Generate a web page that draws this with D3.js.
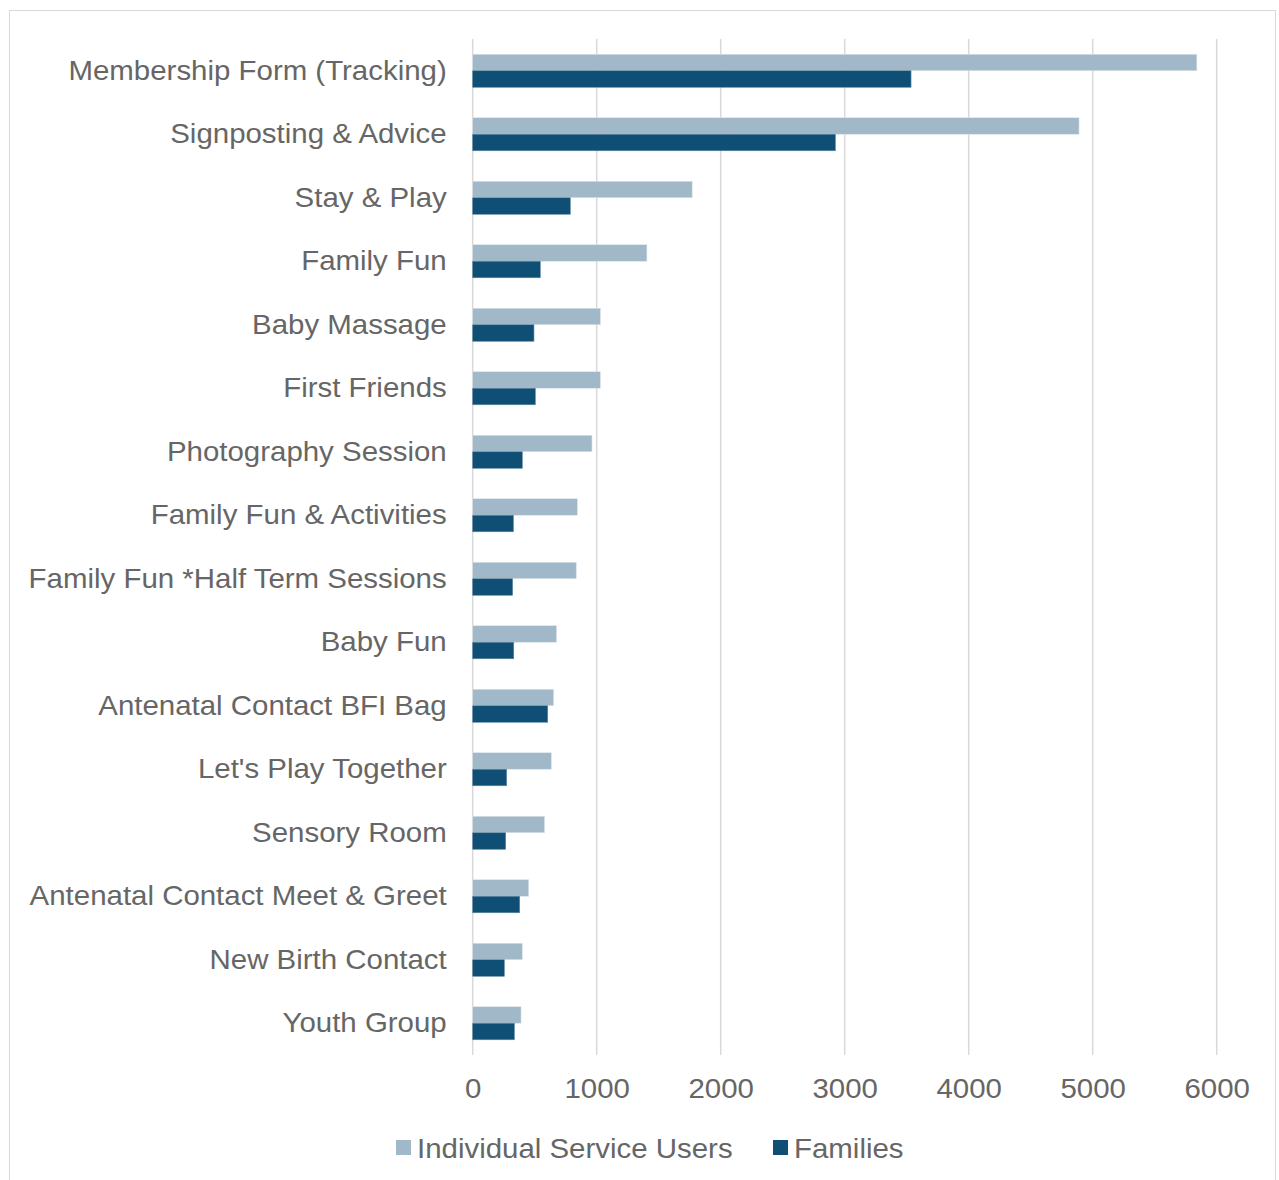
<!DOCTYPE html>
<html>
<head>
<meta charset="utf-8">
<script src="https://cdn.jsdelivr.net/npm/d3@7"></script>
<style>
  html, body { margin: 0; padding: 0; background: #fff; }
  svg { display: block; }
  text { font-family: "Liberation Sans", Arial, sans-serif; fill: #666666; }
</style>
</head>
<body>
<script>
// Programme attendance by activity
const categories = [
  "Membership Form (Tracking)",
  "Signposting & Advice",
  "Stay & Play",
  "Family Fun",
  "Baby Massage",
  "First Friends",
  "Photography Session",
  "Family Fun & Activities",
  "Family Fun *Half Term Sessions",
  "Baby Fun",
  "Antenatal Contact BFI Bag",
  "Let's Play Together",
  "Sensory Room",
  "Antenatal Contact Meet & Greet",
  "New Birth Contact",
  "Youth Group"
];
const individualUsers = [5840, 4890, 1770, 1405, 1030, 1030, 962, 844, 835, 677, 653, 634, 580, 452, 400, 390];
const families = [3535, 2925, 787, 545, 494, 505, 400, 328, 322, 331, 605, 274, 266, 379, 255, 336];
const xTicks = [0, 1000, 2000, 3000, 4000, 5000, 6000];
const seriesNames = ["Individual Service Users", "Families"];
const seriesColors = ["#A1B8C8", "#0F4F75"];

const W = 1279, H = 1180;
const plot = { left: 472.7, right: 1216.7, top: 39, bottom: 1055 };
const FONT = "27.5px";
const WIDEN = 1.07; // text is set slightly wide

const svg = d3.select("body").append("svg").attr("width", W).attr("height", H);

// outer chart frame
svg.append("rect")
  .attr("x", 9.5).attr("y", 10.5)
  .attr("width", 1266).attr("height", 1200)
  .attr("fill", "#fff").attr("stroke", "#D9D9D9").attr("stroke-width", 1);

const x = d3.scaleLinear().domain([0, 6000]).range([plot.left, plot.right]);
const y = d3.scaleBand().domain(categories).range([plot.top, plot.bottom]).paddingInner(0.48).paddingOuter(0.24);
const sub = d3.scaleBand().domain(seriesNames).range([0, y.bandwidth()]);

// vertical gridlines
svg.append("g").selectAll("line").data(xTicks).join("line")
  .attr("x1", d => x(d)).attr("x2", d => x(d))
  .attr("y1", plot.top).attr("y2", plot.bottom)
  .attr("stroke", "#D9D9D9").attr("stroke-width", 1.5);

// bars
const rows = categories.map((c, i) => ({ c, vals: [individualUsers[i], families[i]] }));
const g = svg.append("g");
rows.forEach(r => {
  r.vals.forEach((v, k) => {
    g.append("rect")
      .attr("x", x(0))
      .attr("y", y(r.c) + sub(seriesNames[k]))
      .attr("width", x(v) - x(0))
      .attr("height", sub.bandwidth())
      .attr("fill", seriesColors[k])
      .attr("stroke", k === 0 ? "#DCE5EC" : "#5E86A0")
      .attr("stroke-width", 0.6);
  });
});

function styleText(sel) {
  sel.style("font-size", FONT).attr("fill", "#666666")
    .style("font-family", '"Liberation Sans", Arial, sans-serif');
}

// category labels
const yAxis = d3.axisLeft(y).tickSize(0).tickPadding(26);
const ya = svg.append("g").attr("transform", `translate(${plot.left},0)`).call(yAxis);
ya.select(".domain").remove();
styleText(ya.selectAll("text"));

// value axis labels
const xAxis = d3.axisBottom(x).tickValues(xTicks).tickSize(0).tickPadding(22).tickFormat(d3.format("d"));
const xa = svg.append("g").attr("transform", `translate(0,${plot.bottom + 1})`).call(xAxis);
xa.select(".domain").remove();
styleText(xa.selectAll("text"));

// legend
const legendItems = [
  { name: seriesNames[0], color: seriesColors[0], x: 396 },
  { name: seriesNames[1], color: seriesColors[1], x: 773 }
];
const lg = svg.append("g");
legendItems.forEach(it => {
  lg.append("rect").attr("x", it.x).attr("y", 1140).attr("width", 15).attr("height", 15).attr("fill", it.color);
  styleText(lg.append("text").attr("x", it.x + 21).attr("y", 1157.5).text(it.name));
});

// widen every label a little
svg.selectAll("text").each(function () {
  const len = this.getComputedTextLength();
  d3.select(this).attr("textLength", len * WIDEN).attr("lengthAdjust", "spacingAndGlyphs");
});
</script>
</body>
</html>
